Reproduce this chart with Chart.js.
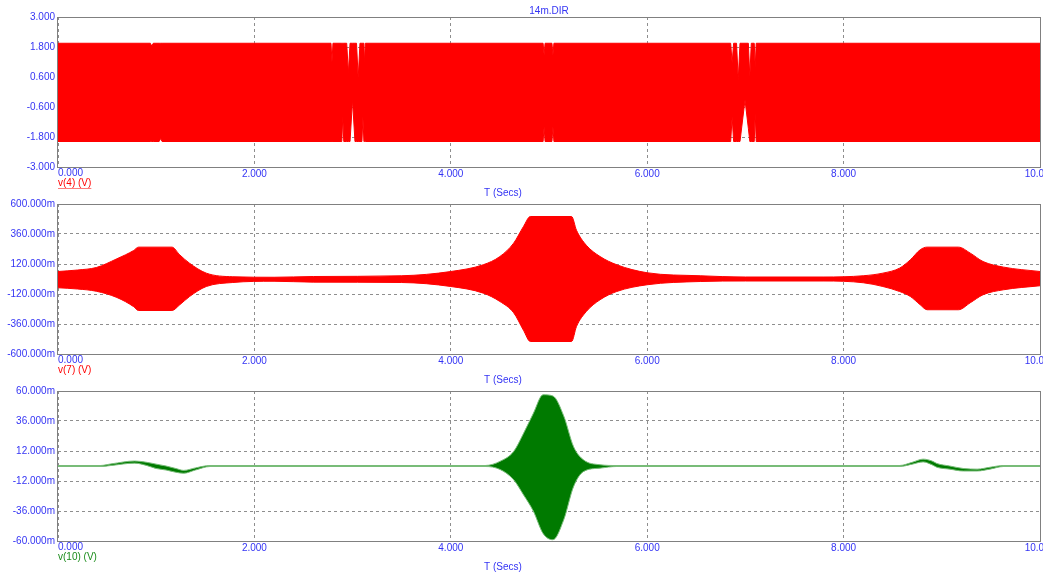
<!DOCTYPE html>
<html>
<head>
<meta charset="utf-8">
<script src="https://cdn.jsdelivr.net/npm/chart.js@4/dist/chart.umd.min.js"></script>
<style>
  body{ margin:0; background:#fff; overflow:hidden; width:1043px; height:572px; position:relative; }
  canvas{ position:absolute; left:0; }
</style>
</head>
<body>
<canvas id="p1" width="1080" height="200" style="top:0px"></canvas>
<canvas id="p2" width="1080" height="200" style="top:187px"></canvas>
<canvas id="p3" width="1080" height="200" style="top:374px"></canvas>
<script>
// tick values
const timeTicks = [0, 2, 4, 6, 8, 10];
const v4Ticks = [-3, -1.8, -0.6, 0.6, 1.8, 3];
const v7Ticks = [-600, -360, -120, 120, 360, 600];   // mV
const v10Ticks = [-60, -36, -12, 12, 36, 60];        // mV

// v(4) envelope (V)
const v4Time  = [0, 0.94, 0.955, 0.97, 1.03, 1.045, 1.06, 2.78, 2.79, 2.80, 2.89, 2.90, 2.91, 2.94, 2.957, 2.974, 2.999, 3.024, 3.04, 3.057, 3.075, 3.095, 3.105, 3.115, 3.12, 3.13, 4.94, 4.95, 4.96, 5.03, 5.04, 5.05, 6.85, 6.865, 6.88, 6.91, 6.927, 6.945, 6.996, 7.03, 7.045, 7.06, 7.09, 7.10, 7.11, 10];
const v4Upper = [1.95, 1.95, 1.84, 1.95, 1.95, 1.95, 1.95, 1.95, 1.20, 1.95, 1.95, 1.95, 1.95, 1.95, 0.76, 1.95, 1.95, 1.95, 1.95, 0.55, 1.95, 1.95, 1.95, 1.95, 1.20, 1.95, 1.95, 1.48, 1.95, 1.95, 1.48, 1.95, 1.95, 1.16, 1.95, 1.95, 0.48, 1.95, 1.95, 1.95, 0.61, 1.95, 1.95, 1.00, 1.95, 1.95];
const v4Lower = [-1.98, -1.98, -1.98, -1.98, -1.98, -1.86, -1.98, -1.98, -1.98, -1.98, -1.98, -1.00, -1.98, -1.98, -1.98, -1.98, -0.32, -1.98, -1.98, -1.98, -1.98, -1.98, -1.00, -1.98, -1.98, -1.98, -1.98, -1.39, -1.98, -1.98, -1.39, -1.98, -1.98, -0.99, -1.98, -1.98, -1.98, -1.98, -0.32, -1.45, -1.98, -1.98, -1.98, -0.85, -1.98, -1.98];

// v(7) envelope (mV)
const v7Time  = [0, 0.2, 0.39, 0.6, 0.77, 0.82, 1.16, 1.24, 1.34, 1.51, 1.78, 2.2, 2.6, 3.5, 4.0, 4.33, 4.5, 4.64, 4.74, 4.81, 5.23, 5.28, 5.38, 5.52, 5.69, 6.0, 6.54, 7.0, 7.8, 8.2, 8.4, 8.57, 8.68, 8.78, 8.85, 9.17, 9.29, 9.42, 9.63, 10];
const v7Upper = [60, 72, 92, 162, 228, 255, 255, 193, 126, 47, 18, 14, 20, 26, 60, 114, 180, 287, 420, 500, 500, 390, 270, 180, 114, 50, 26, 16, 16, 26, 47, 87, 154, 234, 255, 255, 207, 140, 95, 60];
const v7Lower = [-70, -80, -98, -148, -221, -252, -252, -206, -140, -60, -28, -18, -25, -28, -60, -113, -180, -270, -410, -500, -500, -380, -260, -166, -100, -46, -20, -16, -16, -30, -60, -100, -140, -206, -246, -246, -190, -126, -86, -54];

// v(10) envelope (mV)
const v10Time  = [0, 0.43, 0.55, 0.78, 0.9, 1.0, 1.1, 1.2, 1.28, 1.4, 1.55, 4.35, 4.5, 4.64, 4.74, 4.84, 4.94, 5.04, 5.15, 5.25, 5.35, 5.52, 5.69, 8.57, 8.7, 8.81, 8.9, 8.95, 9.08, 9.22, 9.36, 9.49, 9.63, 10];
const v10Upper = [0.4, 0.4, 1.8, 4.0, 3.0, 1.5, 0, -2.0, -3.5, -1.5, 0.4, 0.4, 3.7, 11.6, 26, 42, 57, 56, 40, 15.5, 5, 1, 0.4, 0.4, 3, 5.5, 4, 2, 0, -2, -2.5, -1, 0.4, 0.4];
const v10Lower = [-0.4, -0.4, 0.5, 2.3, 0.5, -2.0, -3.2, -5.0, -5.8, -3.2, -0.4, -0.4, -2.7, -11, -23, -36, -54, -59, -43, -16.5, -4.5, -1.7, -0.4, -0.4, 1.5, 3.3, 1, -1, -2.5, -4, -4, -2.5, -0.4, -0.4];

const BLUE = "#3434f4";
const GRID = "#8e8e8e";
const FONT = { family: "'Liberation Sans', Arial, sans-serif", size: 10 };
const FONT_CSS = "10px 'Liberation Sans', Arial, sans-serif";

function toPoints(xs, ys){
  return xs.map((x, i) => ({ x: x, y: ys[i] }));
}

function makePanel(id, p){
  const textPlugin = {
    id: "panelText",
    afterDraw(chart){
      const ctx = chart.ctx;
      const a = chart.chartArea;
      ctx.save();
      // frame
      ctx.strokeStyle = "#808080";
      ctx.lineWidth = 1;
      ctx.setLineDash([]);
      ctx.strokeRect(a.left - 0.5, a.top + 0.5, a.right - a.left + 1, a.bottom - a.top);
      ctx.font = FONT_CSS;
      // first time label, left aligned
      ctx.fillStyle = BLUE;
      ctx.textAlign = "left";
      ctx.textBaseline = "top";
      ctx.fillText("0.000", a.left, a.bottom + 1);
      ctx.textBaseline = "middle";
      if(p.title){
        ctx.textAlign = "center";
        ctx.fillText(p.title, (a.left + a.right) / 2, a.top - 6);
      }
      ctx.textAlign = "left";
      ctx.fillText("T (Secs)", 484, a.bottom + 26);
      ctx.fillStyle = p.labelColor;
      ctx.fillText(p.label, a.left, a.bottom + 16);
      if(p.underline){
        const w = ctx.measureText(p.label).width;
        ctx.strokeStyle = "#ff7a7a";
        ctx.beginPath();
        ctx.moveTo(a.left, a.bottom + 21.5);
        ctx.lineTo(a.left + w, a.bottom + 21.5);
        ctx.stroke();
      }
      ctx.restore();
    }
  };

  return new Chart(document.getElementById(id), {
    type: "line",
    data: {
      datasets: [
        {
          data: toPoints(p.time, p.upper),
          borderColor: p.edge,
          borderWidth: 1,
          pointRadius: 0,
          fill: false,
          cubicInterpolationMode: p.smooth ? "monotone" : "default"
        },
        {
          data: toPoints(p.time, p.lower),
          borderColor: p.edge,
          borderWidth: 1,
          pointRadius: 0,
          fill: "-1",
          backgroundColor: p.color,
          cubicInterpolationMode: p.smooth ? "monotone" : "default"
        }
      ]
    },
    options: {
      responsive: false,
      animation: false,
      devicePixelRatio: 1,
      layout: { padding: { top: 17, right: 40, left: 0, bottom: 0 } },
      plugins: { legend: { display: false }, tooltip: { enabled: false } },
      scales: {
        x: {
          type: "linear",
          min: 0,
          max: 10,
          afterBuildTicks: s => { s.ticks = timeTicks.map(v => ({ value: v })); },
          afterFit: s => { s.height = 33; },
          grid: { color: GRID, drawTicks: false },
          border: { display: false, dash: [3, 3] },
          ticks: {
            padding: 1,
            color: BLUE,
            font: FONT,
            maxRotation: 0,
            autoSkip: false,
            callback: v => v === 0 ? "" : v.toFixed(3)
          }
        },
        y: {
          min: p.ticks[0],
          max: p.ticks[p.ticks.length - 1],
          afterBuildTicks: s => { s.ticks = p.ticks.map(v => ({ value: v })); },
          afterFit: s => { s.width = 58; },
          grid: { color: GRID, drawTicks: false },
          border: { display: false, dash: [3, 3] },
          ticks: {
            padding: 3,
            color: BLUE,
            font: FONT,
            autoSkip: false,
            callback: p.fmt
          }
        }
      }
    },
    plugins: [textPlugin]
  });
}

makePanel("p1", {
  time: v4Time, upper: v4Upper, lower: v4Lower,
  ticks: v4Ticks,
  fmt: v => v.toFixed(3),
  color: "#ff0000", edge: "#ff0000", smooth: false,
  title: "14m.DIR",
  label: "v(4) (V)", labelColor: "#ff0000", underline: true
});

makePanel("p2", {
  time: v7Time, upper: v7Upper, lower: v7Lower,
  ticks: v7Ticks,
  fmt: v => v.toFixed(3) + "m",
  color: "#ff0000", edge: "#ff0000", smooth: true,
  label: "v(7) (V)", labelColor: "#ff0000"
});

makePanel("p3", {
  time: v10Time, upper: v10Upper, lower: v10Lower,
  ticks: v10Ticks,
  fmt: v => v.toFixed(3) + "m",
  color: "#007a00", edge: "#78bc78", smooth: true,
  label: "v(10) (V)", labelColor: "#1a8c1a"
});
</script>
</body>
</html>
